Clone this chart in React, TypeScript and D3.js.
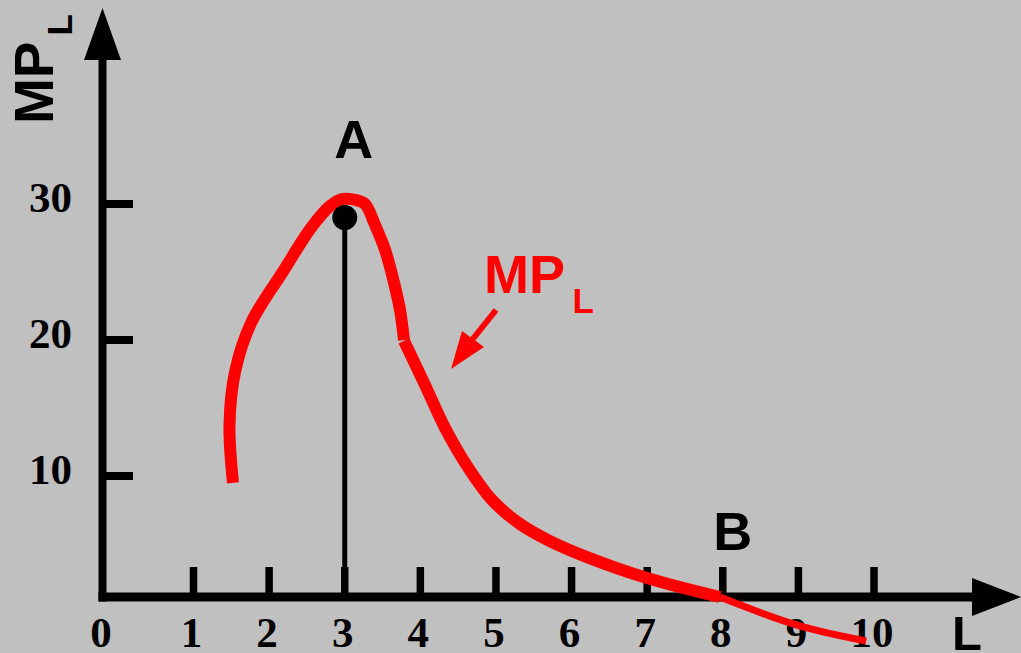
import React from "react";
import * as d3 from "d3";

// Labour input (L) and marginal product of labour (MP_L) along the curve.
// The curve is drawn in three strokes: the rising hump, the falling stretch down to B,
// and the thinner tail that dips below the axis.
const humpL = [1.522, 1.476, 1.549, 1.761, 2.197, 2.554, 2.806, 2.978, 3.15, 3.269, 3.401, 3.534, 3.653, 3.731, 3.784];
const humpMP = [9.49, 13.75, 17.65, 21.25, 25.15, 28.24, 29.85, 30.37, 30.29, 30.0, 28.46, 26.62, 24.19, 22.21, 20.0];

const fallL = [3.784, 4.062, 4.327, 4.618, 4.947, 5.318, 5.714, 6.204, 6.998, 7.963];
const fallMP = [19.93, 16.69, 13.53, 10.74, 8.24, 6.47, 5.22, 4.04, 2.5, 1.1];

const tailL = [7.963, 8.982, 9.896];
const tailMP = [1.1, -0.96, -2.13];

// Point A: maximum of the marginal product
const pointA = { L: 3, MP: 29 };
// Point B: where the curve meets the horizontal axis
const pointB = { L: 8 };

const xTicks = [0, 1, 2, 3, 4, 5, 6, 7, 8, 9, 10];
const yTicks = [10, 20, 30];

const W = 1021;
const H = 653;
const BG = "#c0c0c0";
const RED = "#ff0000";
const SANS = "'Liberation Sans', Arial, sans-serif";
const SERIF = "'Liberation Serif', 'Times New Roman', serif";

// Frame of the two axes
const axisX = 102.5; // vertical axis line
const axisY = 597; // horizontal axis line

const x = d3.scaleLinear().domain([0, 10]).range([117.9, 874]);
const y = d3.scaleLinear().domain([10, 30]).range([476, 204]);

const curveLine = d3
  .line<[number, number]>()
  .x((d) => x(d[0]))
  .y((d) => y(d[1]))
  .curve(d3.curveCatmullRom.alpha(0.5));

const zip = (a: number[], b: number[]) => a.map((v, i) => [v, b[i]] as [number, number]);

export default function App() {
  const humpPath = curveLine(zip(humpL, humpMP)) || "";
  const fallPath = curveLine(zip(fallL, fallMP)) || "";
  const tailPath = curveLine(zip(tailL, tailMP)) || "";

  return (
    <svg
      width={W}
      height={H}
      viewBox={`0 0 ${W} ${H}`}
      style={{ position: "absolute", left: 0, top: 0, display: "block" }}
    >
      <rect x={0} y={0} width={W} height={H} fill={BG} />

      {/* vertical axis with arrow */}
      <line x1={axisX} y1={58} x2={axisX} y2={axisY + 4.5} stroke="#000" strokeWidth={8} />
      <polygon points={`${axisX - 18.5},60 ${axisX},8 ${axisX + 18.5},60`} fill="#000" />

      {/* horizontal axis with arrow */}
      <line x1={axisX - 4} y1={axisY} x2={975} y2={axisY} stroke="#000" strokeWidth={9} />
      <polygon points={`972,${axisY - 19} 1021,${axisY} 972,${axisY + 19}`} fill="#000" />

      {/* y ticks and labels */}
      {yTicks.map((t) => (
        <g key={`y${t}`}>
          <line x1={axisX} x2={133} y1={y(t)} y2={y(t)} stroke="#000" strokeWidth={8} />
          <text
            x={72}
            y={y(t) + 8}
            textAnchor="end"
            fontFamily={SERIF}
            fontWeight="bold"
            fontSize={43}
            fill="#000"
          >
            {t}
          </text>
        </g>
      ))}

      {/* x ticks and labels */}
      {xTicks.map((t) => (
        <g key={`x${t}`}>
          {t > 0 && (
            <line x1={x(t)} x2={x(t)} y1={567} y2={axisY} stroke="#000" strokeWidth={7.5} />
          )}
          <text
            x={t === 0 ? 101 : x(t) - 2}
            y={647}
            textAnchor="middle"
            fontFamily={SERIF}
            fontWeight="bold"
            fontSize={43}
            fill="#000"
          >
            {t}
          </text>
        </g>
      ))}

      {/* axis titles */}
      <g transform="translate(53,124) rotate(-90)">
        <text x={0} y={0} fontFamily={SANS} fontWeight="bold" fontSize={55} fill="#000">
          MP
        </text>
      </g>
      <g transform="translate(72,35.5) rotate(-90)">
        <text x={0} y={0} fontFamily={SANS} fontWeight="bold" fontSize={35} fill="#000">
          L
        </text>
      </g>
      <text x={952} y={650} fontFamily={SANS} fontWeight="bold" fontSize={49} fill="#000">
        L
      </text>

      {/* drop line from A to the axis */}
      <line
        x1={x(pointA.L)}
        x2={x(pointA.L)}
        y1={y(pointA.MP)}
        y2={axisY}
        stroke="#000"
        strokeWidth={5}
      />

      {/* MP_L curve */}
      <path d={humpPath} fill="none" stroke={RED} strokeWidth={12} />
      <path d={fallPath} fill="none" stroke={RED} strokeWidth={12} />
      <path d={tailPath} fill="none" stroke={RED} strokeWidth={7} />

      <circle cx={x(pointA.L)} cy={y(pointA.MP)} r={12.5} fill="#000" />

      {/* point labels */}
      <text
        x={x(pointA.L) + 9}
        y={158}
        textAnchor="middle"
        fontFamily={SANS}
        fontWeight="bold"
        fontSize={54}
        fill="#000"
      >
        A
      </text>
      <text
        x={x(pointB.L) + 10}
        y={550}
        textAnchor="middle"
        fontFamily={SANS}
        fontWeight="bold"
        fontSize={54}
        fill="#000"
      >
        B
      </text>

      {/* curve label with pointer */}
      <text x={484} y={293} fontFamily={SANS} fontWeight="bold" fontSize={54} fill={RED}>
        MP
      </text>
      <text x={572.5} y={313} fontFamily={SANS} fontWeight="bold" fontSize={35} fill={RED}>
        L
      </text>
      <line x1={496} y1={310} x2={472} y2={340} stroke={RED} strokeWidth={6} />
      <polygon points="451,369 462,331 484,347" fill={RED} />
    </svg>
  );
}
